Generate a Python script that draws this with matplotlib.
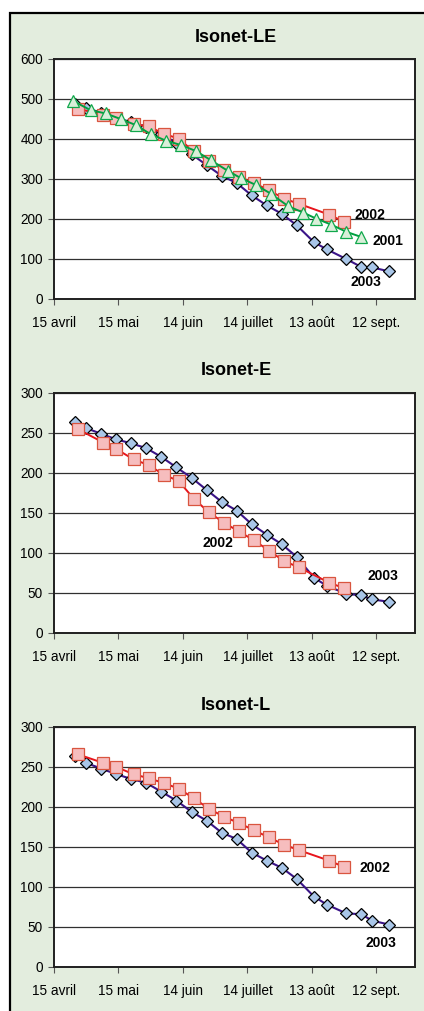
import numpy as np
import matplotlib
matplotlib.use("Agg")
import matplotlib.pyplot as plt
from matplotlib.patches import Rectangle

plt.rcParams['font.family'] = ['Liberation Sans', 'DejaVu Sans']

# jours depuis le 15 avril
jours_2003 = [10, 15, 22, 29, 36, 43, 50, 57, 64, 71, 78, 85, 92, 99, 106, 113, 121, 127, 136, 143, 148, 156]
jours_2002 = [11, 23, 29, 37, 44, 51, 58, 65, 72, 79, 86, 93, 100, 107, 114, 128, 135]
jours_2001 = [9, 17, 24, 31, 38, 45, 52, 59, 66, 73, 81, 87, 94, 101, 109, 116, 122, 129, 136, 143]

# Isonet-LE
le_2003 = [488, 477, 466, 453, 442, 430, 412, 390, 362, 335, 308, 290, 259, 234, 213, 184, 142, 124, 100, 80, 79, 69]
le_2002 = [476, 460, 452, 437, 432, 413, 401, 369, 344, 323, 306, 290, 272, 251, 238, 211, 193]
le_2001 = [495, 472, 464, 450, 435, 412, 396, 385, 370, 347, 320, 302, 285, 263, 232, 216, 201, 186, 168, 155]

# Isonet-E
e_2003 = [264, 256, 249, 242, 237, 231, 220, 207, 194, 179, 164, 153, 136, 123, 111, 95, 69, 59, 49, 47, 42, 39]
e_2002 = [255, 238, 230, 217, 210, 198, 190, 168, 151, 138, 127, 116, 103, 90, 82, 63, 56]

# Isonet-L
l_2003 = [264, 255, 248, 241, 235, 230, 219, 208, 194, 183, 168, 160, 143, 133, 124, 110, 88, 78, 67, 66, 58, 53]
l_2002 = [266, 255, 250, 241, 236, 230, 223, 211, 198, 188, 180, 171, 162, 153, 146, 133, 125]

tick_pos = [0, 30, 60, 90, 120, 150]
tick_lab = ["15 avril", "15 mai", "14 juin", "14 juillet", "13 août", "12 sept."]

vert = "#E3EDDE"

fig = plt.figure(figsize=(4.24, 10.11), dpi=100)
fig.patch.set_facecolor("white")
fig.patches.append(Rectangle((10/424, -0.05), 1.2, 1 - 13/1011 + 0.05, transform=fig.transFigure,
                             facecolor=vert, edgecolor="black", linewidth=1.6, zorder=-10))

def serie(ax, x, y, style):
    if style == 2003:
        ax.plot(x, y, color="#3A1488", lw=1.5, marker="D", ms=6.0, mfc="#A9C6E8", mec="black", mew=0.9, zorder=3)
    elif style == 2002:
        ax.plot(x, y, color="#E8141C", lw=1.4, marker="s", ms=8.5, mfc="#F6BDBE", mec="#D9553F", mew=0.9, zorder=4)
    else:
        ax.plot(x, y, color="#00A040", lw=1.4, marker="^", ms=8.5, mfc="#D9EFD9", mec="#10A84C", mew=0.9, zorder=5)

def panneau(bottom, titre, ymax, pas):
    ax = fig.add_axes([54/424, bottom, 361/424, 240/1011])
    ax.set_facecolor("white")
    ax.set_xlim(0, 168)
    ax.set_ylim(0, ymax)
    ax.set_yticks(np.arange(0, ymax + 1, pas))
    ax.set_xticks(tick_pos)
    ax.set_xticklabels(tick_lab)
    ax.tick_params(axis="both", labelsize=9.8, color="#555555", length=4, width=0.8)
    ax.tick_params(axis="x", pad=8)
    ax.tick_params(axis="y", pad=4)
    ax.grid(axis="y", color="#303030", lw=0.9)
    ax.set_axisbelow(True)
    for s in ax.spines.values():
        s.set_linewidth(1.4)
        s.set_color("#202020")
    fig.text(236/424, bottom + 240/1011 + 22/1011, titre,
             ha="center", va="center", fontsize=13, fontweight="bold")
    return ax

ax1 = panneau(1 - 299/1011, "Isonet-LE", 600, 100)
serie(ax1, jours_2003, le_2003, 2003)
serie(ax1, jours_2002, le_2002, 2002)
serie(ax1, jours_2001, le_2001, 2001)
ax1.text(140, 210, "2002", fontsize=10, fontweight="bold", va="center")
ax1.text(148, 146, "2001", fontsize=10, fontweight="bold", va="center")
ax1.text(138, 43, "2003", fontsize=10, fontweight="bold", va="center")

ax2 = panneau(1 - 633/1011, "Isonet-E", 300, 50)
serie(ax2, jours_2003, e_2003, 2003)
serie(ax2, jours_2002, e_2002, 2002)
ax2.text(69, 113, "2002", fontsize=10, fontweight="bold", va="center")
ax2.text(146, 71, "2003", fontsize=10, fontweight="bold", va="center")

ax3 = panneau(1 - 967/1011, "Isonet-L", 300, 50)
serie(ax3, jours_2003, l_2003, 2003)
serie(ax3, jours_2002, l_2002, 2002)
ax3.text(142, 124, "2002", fontsize=10, fontweight="bold", va="center")
ax3.text(145, 30, "2003", fontsize=10, fontweight="bold", va="center")

fig.savefig("out.png", dpi=100)
